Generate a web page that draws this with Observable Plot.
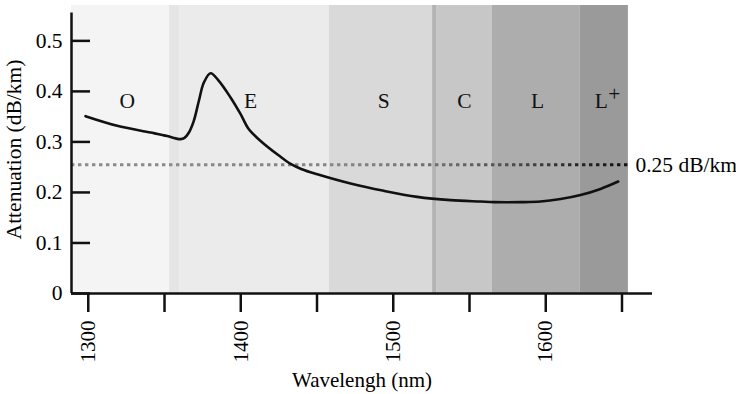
<!DOCTYPE html>
<html>
<head>
<meta charset="utf-8">
<script src="https://cdn.jsdelivr.net/npm/d3@7"></script>
<script src="https://cdn.jsdelivr.net/npm/@observablehq/plot@0.6"></script>
<style>
  html, body { margin: 0; padding: 0; background: #fff; }
  svg { display: block; }
</style>
</head>
<body>
<div id="chart"></div>
<script>
// ---- data ----
const bandNames   = ["O", "", "E", "S", "", "C", "L", "L"];
const bandSup     = ["", "", "", "", "", "", "", "+"];
const bandStart   = [1289, 1353.3, 1359.9, 1458.2, 1525.8, 1528.4, 1565, 1622.7];
const bandEnd     = [1353.3, 1359.9, 1458.2, 1525.8, 1528.4, 1565, 1622.7, 1654.2];
const bandColor   = ["#f4f4f4", "#e5e5e5", "#ebebeb", "#d9d9d9", "#b3b3b3", "#c6c7c6", "#adadad", "#9a9a9a"];
const bandLabelX  = [1325.6, null, 1406.4, 1493.8, null, 1546.6, 1594.6, 1636.5];

const wavelength  = [1298.2, 1319, 1340.9, 1351.8, 1357.2, 1360.5, 1363.1, 1366, 1369.2, 1372.5, 1375.8, 1380.2, 1385.6, 1393.3, 1399.9, 1405.3, 1413, 1425, 1432.7, 1440, 1450.2, 1472, 1493.8, 1515.7, 1537.6, 1557.3, 1566, 1583.5, 1596.6, 1609.7, 1622.8, 1635.9, 1647.5];
const attenuation = [0.351, 0.332, 0.3186, 0.3115, 0.307, 0.3055, 0.308, 0.3186, 0.3417, 0.381, 0.4175, 0.436, 0.421, 0.388, 0.355, 0.325, 0.302, 0.273, 0.2565, 0.246, 0.236, 0.2177, 0.2032, 0.1913, 0.1848, 0.182, 0.1808, 0.1808, 0.182, 0.187, 0.195, 0.207, 0.2216];

const thresholdValue = 0.255;
const thresholdLabel = "0.25 dB/km";

const xTicks = [1300, 1350, 1400, 1450, 1500, 1550, 1600, 1650];
const yTicks = [0, 0.1, 0.2, 0.3, 0.4, 0.5];
const xDomain = [1289, 1670];
const yDomain = [0, 0.57];
const labelY = 0.38;

// ---- tables ----
const bands = bandNames.map((n, i) => ({name: n, sup: bandSup[i], x1: bandStart[i], x2: bandEnd[i], color: bandColor[i], lx: bandLabelX[i]}));
const bandLabels = bands.filter(d => d.lx != null);
const curve = wavelength.map((w, i) => ({w, a: attenuation[i]}));
const yTickLen = 19 / 1.525;

const chart = Plot.plot({
  width: 736,
  height: 394,
  marginLeft: 71,
  marginRight: 84,
  marginTop: 5,
  marginBottom: 101,
  style: {fontFamily: "'Liberation Serif', 'Times New Roman', serif", fontSize: "21px", background: "#fff", color: "#000", overflow: "visible"},
  x: {domain: xDomain},
  y: {domain: yDomain},
  marks: [
    Plot.rect(bands, {x1: "x1", x2: "x2", y1: 0, y2: yDomain[1], fill: "color"}),
    Plot.ruleY([thresholdValue], {x1: xDomain[0], x2: bandEnd[bandEnd.length - 1], stroke: "url(#dotgrad)", strokeWidth: 3, strokeDasharray: "3.4,3.6"}),
    Plot.text([thresholdLabel], {x: bandEnd[bandEnd.length - 1], y: thresholdValue, text: d => d, textAnchor: "start", dx: 7, fontSize: 21.5, fill: "#000"}),
    Plot.line(curve, {x: "w", y: "a", curve: "catmull-rom", stroke: "#111", strokeWidth: 2.6}),
    Plot.text(bandLabels, {x: "lx", y: labelY, text: "name", fontSize: 21.5, fill: "#111"}),
    Plot.text(bandLabels.filter(d => d.sup), {x: "lx", y: labelY, text: "sup", fontSize: 21.5, fill: "#111", dx: 13, dy: -7}),
    Plot.ruleX([xDomain[0]], {y1: 0, y2: 0.555, strokeWidth: 2.5, stroke: "#111"}),
    Plot.ruleY([0], {strokeWidth: 2.5, stroke: "#111"}),
    Plot.ruleY(yTicks, {y: d => d, x1: xDomain[0], x2: xDomain[0] + yTickLen, strokeWidth: 2.5, stroke: "#111"}),
    Plot.axisY({ticks: yTicks, tickSize: 0, tickPadding: 9, tickFormat: d => d === 0 ? "0" : d.toFixed(1), label: "Attenuation (dB/km)", labelAnchor: "center", labelOffset: 66, labelArrow: "none", fontSize: 21.5}),
    Plot.axisX({ticks: xTicks, tickSize: 19, tickPadding: 8, strokeWidth: 2.5, stroke: "#111", tickRotate: -90, tickFormat: d => d % 100 === 0 ? String(d) : "", label: "Wavelengh (nm)", labelAnchor: "center", labelOffset: 93, labelArrow: "none", fontSize: 21})
  ]
});

// gradient for the dotted threshold line (grey to black), positioned through the x scale
const xs = chart.scale("x");
const ns = "http://www.w3.org/2000/svg";
const defs = document.createElementNS(ns, "defs");
const grad = document.createElementNS(ns, "linearGradient");
grad.setAttribute("id", "dotgrad");
grad.setAttribute("gradientUnits", "userSpaceOnUse");
grad.setAttribute("x1", xs.apply(xDomain[0]));
grad.setAttribute("x2", xs.apply(bandEnd[bandEnd.length - 1]));
grad.setAttribute("y1", 0);
grad.setAttribute("y2", 0);
[[0, "#8c8c8c"], [0.5, "#848484"], [0.68, "#6a6a6a"], [0.82, "#444"], [0.92, "#222"], [1, "#111"]].forEach(([o, c]) => {
  const s = document.createElementNS(ns, "stop");
  s.setAttribute("offset", o);
  s.setAttribute("stop-color", c);
  grad.appendChild(s);
});
defs.appendChild(grad);
chart.insertBefore(defs, chart.firstChild);

document.getElementById("chart").appendChild(chart);
</script>
</body>
</html>
